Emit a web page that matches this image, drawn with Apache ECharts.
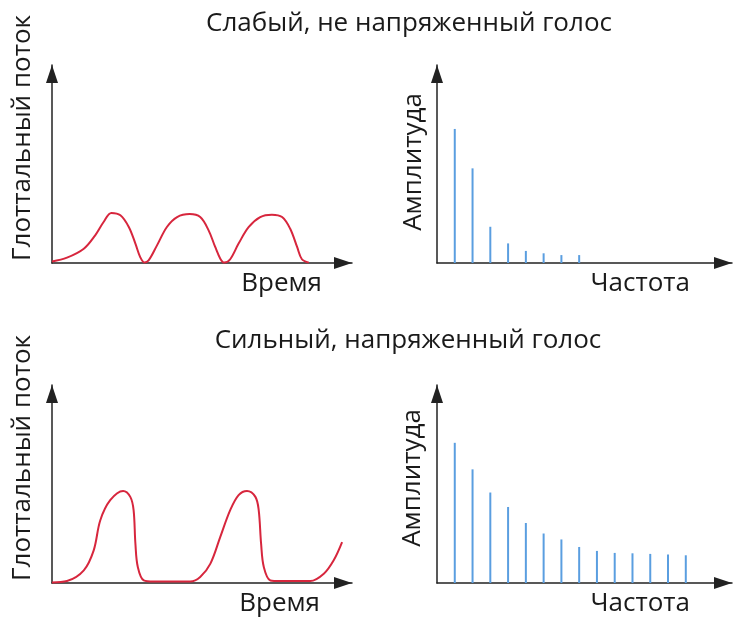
<!DOCTYPE html>
<html>
<head>
<meta charset="utf-8">
<script src="https://cdn.jsdelivr.net/npm/echarts@6/dist/echarts.min.js"></script>
<style>
html, body { margin: 0; padding: 0; background: #fff; }
#chart { width: 738px; height: 621px; }
</style>
</head>
<body>
<div id="chart"></div>
<script>
// glottal flow, weak voice: [time, flow] (axis 0..100)
var weakFlow = [
	[0, 0.8], [5, 2.7], [10.6, 7.2], [14.4, 14], [17.2, 20.7], [19.8, 25.3], [22.8, 24.1],
	[25.6, 18.2], [27.8, 9.8], [29.4, 3], [30.8, 0.3], [32.2, 1.3], [35, 8.9], [38.3, 18.2],
	[41.7, 23.2], [45.9, 24.7], [49.4, 23.2], [52.2, 16.5], [54.4, 8.1], [56.1, 2.2],
	[57.4, 0.2], [59.4, 1.9], [62.2, 9.8], [65.6, 18.2], [69.4, 23.2], [73.3, 24.4],
	[76.7, 23.2], [79.4, 17.3], [81.7, 8.1], [83.3, 1.9], [85.6, 0.2]
];
// glottal flow, strong voice
var strongFlow = [
	[0, 0.3], [5, 1], [10.6, 6.4], [13.9, 16.5], [16.1, 31.7], [19.4, 41.8], [23.7, 46.5],
	[26.1, 43.5], [27.2, 36.8], [27.8, 19.9], [28.6, 8.1], [30.6, 1.3], [33.9, 0.7],
	[46.1, 0.7], [49.4, 3], [52.8, 9.8], [56.1, 23.3], [59.4, 36.8], [62.2, 44.4], [65, 46.5],
	[67.8, 43.5], [68.9, 36.8], [69.7, 19.9], [70.6, 8.1], [72.8, 1.3], [76.1, 1],
	[86.1, 1], [90.6, 4.7], [93.9, 11.5], [96.7, 20.7]
];
// harmonic amplitudes (axis 0..100)
var weakHarmonics = [67.7, 47.8, 18.3, 9.9, 6.1, 4.9, 4.0, 4.0];
var strongHarmonics = [70.8, 57.4, 45.7, 38.4, 30.3, 25, 22, 18.2, 16.2, 15.2, 15, 14.7, 14.4, 14.0];

var titles = ['Слабый, не напряженный голос', 'Сильный, напряженный голос'];
var flowName = 'Глоттальный поток';
var ampName = 'Амплитуда';
var timeName = 'Время';
var freqName = 'Частота';

var font = 'Open Sans';
var fontSize = 26;
var textColor = '#1a1a1a';

var toPairs = function(arr){
	return arr.map(function(v, i){ return [i + 1, v]; });
};

var axisLine = {
	lineStyle: { color: '#222', width: 1.5 },
	symbol: ['none', 'triangle'],
	symbolSize: [12, 18],
	symbolOffset: [0, -9]
};

var xAxisOf = function(idx, max, name, gap){
	return {
		gridIndex: idx, type: 'value', min: 0, max: max,
		axisLine: axisLine, axisTick: { show: false }, axisLabel: { show: false },
		splitLine: { show: false },
		name: name, nameLocation: 'end', nameGap: gap,
		nameTextStyle: { fontFamily: font, fontSize: fontSize, color: textColor, align: 'right', verticalAlign: 'top', padding: [8, 0, 0, 0] }
	};
};
var yAxisOf = function(idx){
	return {
		gridIndex: idx, type: 'value', min: 0, max: 100,
		axisLine: axisLine, axisTick: { show: false }, axisLabel: { show: false },
		splitLine: { show: false }
	};
};
var yName = function(text, x, y){
	return { type: 'text', x: x, y: y, rotation: Math.PI / 2,
		style: { text: text, fontFamily: font, fontSize: fontSize, fill: textColor, align: 'center', verticalAlign: 'middle' } };
};

var chart = echarts.init(document.getElementById('chart'));
var option = {
	backgroundColor: '#fff',
	animation: false,
	title: [
		{ text: titles[0], left: 404, top: 6, textAlign: 'center', textStyle: { fontFamily: font, fontSize: fontSize, fontWeight: 'normal', color: textColor } },
		{ text: titles[1], left: 403, top: 323, textAlign: 'center', textStyle: { fontFamily: font, fontSize: fontSize, fontWeight: 'normal', color: textColor } }
	],
	grid: [
		{ left: 52, top: 65, width: 300, height: 198 },
		{ left: 437, top: 65, width: 295, height: 198 },
		{ left: 52, top: 385, width: 300, height: 198 },
		{ left: 437, top: 385, width: 295, height: 198 }
	],
	xAxis: [
		xAxisOf(0, 100, timeName, -30),
		xAxisOf(1, 16.6, freqName, -42),
		xAxisOf(2, 100, timeName, -32),
		xAxisOf(3, 16.6, freqName, -42)
	],
	yAxis: [yAxisOf(0), yAxisOf(1), yAxisOf(2), yAxisOf(3)],
	graphic: [
		yName(flowName, 23, 138),
		yName(ampName, 414, 162),
		yName(flowName, 23, 458),
		yName(ampName, 413, 478)
	],
	series: [
		{
			type: 'line', xAxisIndex: 0, yAxisIndex: 0, data: weakFlow,
			smooth: 0.35, showSymbol: false,
			lineStyle: { color: '#d7263d', width: 2 }
		},
		{
			type: 'bar', xAxisIndex: 1, yAxisIndex: 1, data: toPairs(weakHarmonics),
			barWidth: 2, itemStyle: { color: '#5a9ee0' }
		},
		{
			type: 'line', xAxisIndex: 2, yAxisIndex: 2, data: strongFlow,
			smooth: 0.35, showSymbol: false,
			lineStyle: { color: '#d7263d', width: 2 }
		},
		{
			type: 'bar', xAxisIndex: 3, yAxisIndex: 3, data: toPairs(strongHarmonics),
			barWidth: 2, itemStyle: { color: '#5a9ee0' }
		}
	]
};
chart.setOption(option);
</script>
</body>
</html>
